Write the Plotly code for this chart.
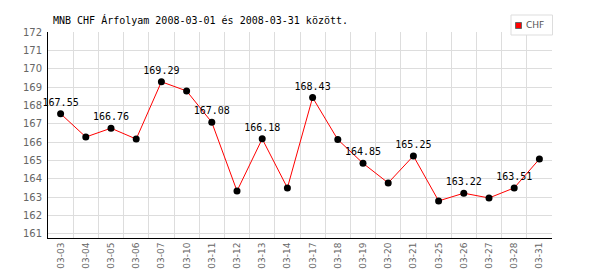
import plotly.graph_objects as go

dates = ["03-03", "03-04", "03-05", "03-06", "03-07", "03-10", "03-11", "03-12",
         "03-13", "03-14", "03-17", "03-18", "03-19", "03-20", "03-21", "03-25",
         "03-26", "03-27", "03-28", "03-31"]
chf = [167.55, 166.28, 166.76, 166.17, 169.29, 168.79, 167.08, 163.34,
       166.18, 163.51, 168.43, 166.14, 164.85, 163.78, 165.25, 162.80,
       163.22, 162.96, 163.51, 165.08]
labels = [f"{v:.2f}" if i % 2 == 0 else "" for i, v in enumerate(chf)]
y_ticks = list(range(161, 173))
series_name = "CHF"

L, R, T, B = 48, 48, 32, 32
PW, PH = 600 - L - R, 270 - T - B


def px_x(p):
    return (p - L) / PW


def px_y(p):
    return (270 - B - p) / PH


fig = go.Figure()
fig.add_trace(go.Scatter(
    x=dates, y=chf, mode="lines+markers+text", text=labels,
    textposition="top center",
    textfont=dict(family="DejaVu Sans Mono", size=10, color="#000"),
    line=dict(color="#ff0000", width=1),
    marker=dict(color="#000", size=7),
    cliponaxis=False, showlegend=False, name=series_name))

# manual legend box
fig.add_shape(type="rect", xref="paper", yref="paper",
              x0=px_x(511), x1=px_x(552.5), y0=px_y(35), y1=px_y(15),
              fillcolor="white", line=dict(color="#dddddd", width=1), layer="above")
fig.add_shape(type="rect", xref="paper", yref="paper",
              x0=px_x(515.5), x1=px_x(521.5), y0=px_y(28.5), y1=px_y(22.5),
              fillcolor="#ff0000", line=dict(color="#666", width=1), layer="above")
fig.add_annotation(text=series_name, xref="paper", yref="paper",
                   x=px_x(524), y=px_y(25.5), xanchor="left", yanchor="middle",
                   showarrow=False,
                   font=dict(family="DejaVu Sans", size=9, color="#555"))

fig.update_layout(
    width=600, height=270,
    margin=dict(l=L, r=R, t=T, b=B, pad=0),
    paper_bgcolor="white", plot_bgcolor="white",
    showlegend=False,
    title=dict(text="MNB CHF Árfolyam 2008-03-01 és 2008-03-31 között.",
               xref="container", yref="container", x=53 / 600, xanchor="left",
               y=1 - 20 / 270, yanchor="middle",
               font=dict(family="DejaVu Sans Mono", size=10, color="#000")),
    xaxis=dict(type="category", tickson="boundaries", range=[-0.5, 19.5],
               tickangle=-90, showgrid=True, gridcolor="#dddddd", gridwidth=1,
               showline=True, linecolor="#000", linewidth=1, ticks="",
               automargin=False, ticklabelstandoff=0,
               tickfont=dict(family="DejaVu Sans", size=9, color="#666"),
               zeroline=False),
    yaxis=dict(range=[160.78, 172], tickvals=y_ticks, showgrid=True,
               gridcolor="#dddddd", gridwidth=1, showline=True, linecolor="#000",
               linewidth=1, ticks="", ticklabelstandoff=3, automargin=False,
               tickfont=dict(family="DejaVu Sans", size=10, color="#666"),
               zeroline=False),
)
fig.write_html("out.html")
